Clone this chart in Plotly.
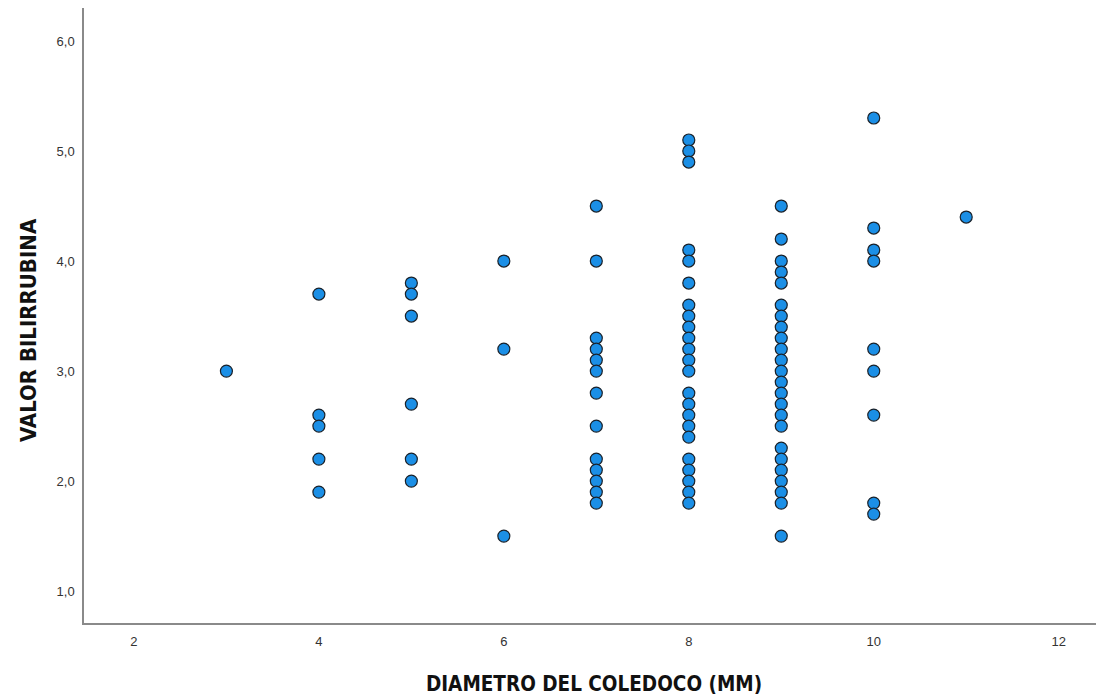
import plotly.graph_objects as go

# Data
diametro_3 = [3.0]
diametro_4 = [3.7, 2.6, 2.5, 2.2, 1.9]
diametro_5 = [3.8, 3.7, 3.5, 2.7, 2.2, 2.0]
diametro_6 = [4.0, 3.2, 1.5]
diametro_7 = [4.5, 4.0, 3.3, 3.2, 3.1, 3.0, 2.8, 2.5, 2.2, 2.1, 2.0, 1.9, 1.8]
diametro_8 = [5.1, 5.0, 4.9, 4.1, 4.0, 3.8, 3.6, 3.5, 3.4, 3.3, 3.2, 3.1, 3.0,
              2.8, 2.7, 2.6, 2.5, 2.4, 2.2, 2.1, 2.0, 1.9, 1.8]
diametro_9 = [4.5, 4.2, 4.0, 3.9, 3.8, 3.6, 3.5, 3.4, 3.3, 3.2, 3.1, 3.0, 2.9,
              2.8, 2.7, 2.6, 2.5, 2.3, 2.2, 2.1, 2.0, 1.9, 1.8, 1.5]
diametro_10 = [5.3, 4.3, 4.1, 4.0, 3.2, 3.0, 2.6, 1.8, 1.7]
diametro_11 = [4.4]

groups = {3: diametro_3, 4: diametro_4, 5: diametro_5, 6: diametro_6, 7: diametro_7,
          8: diametro_8, 9: diametro_9, 10: diametro_10, 11: diametro_11}

x_vals, y_vals = [], []
for d, vals in groups.items():
    x_vals += [d] * len(vals)
    y_vals += vals

x_ticks = [2, 4, 6, 8, 10, 12]
y_ticks = [1.0, 2.0, 3.0, 4.0, 5.0, 6.0]
y_ticktext = ["1,0", "2,0", "3,0", "4,0", "5,0", "6,0"]

fig = go.Figure(go.Scatter(
    x=x_vals, y=y_vals, mode="markers",
    marker=dict(size=12, color="#1b8fe6", line=dict(color="#1a2129", width=1.2)),
    showlegend=False,
))

tick_font = dict(family="Liberation Sans, Arial, sans-serif", size=13, color="#333333")
title_family = "Liberation Sans Narrow, DejaVu Sans Condensed, Liberation Sans, Arial, sans-serif"

# page body has an 8px default margin, so the figure is sized/offset to compensate
fig.update_layout(
    width=1096, height=690,
    margin=dict(l=76, r=0, t=0, b=75),
    plot_bgcolor="white", paper_bgcolor="white",
    xaxis=dict(
        range=[1.46, 12.49], tickvals=x_ticks, ticktext=[str(t) for t in x_ticks],
        showgrid=False, zeroline=False, showline=True, linecolor="#8a8a8a", linewidth=1.5,
        ticks="", tickfont=tick_font, ticklabelstandoff=6, automargin=False,
        title=dict(text="<b>DIAMETRO DEL COLEDOCO (MM)</b>",
                   font=dict(family=title_family, size=20.5, color="#111111"), standoff=28),
    ),
    yaxis=dict(
        range=[0.71, 6.3], tickvals=y_ticks, ticktext=y_ticktext,
        showgrid=False, zeroline=False, showline=True, linecolor="#8a8a8a", linewidth=1.5,
        ticks="", tickfont=tick_font, ticklabelstandoff=5, automargin=False,
    ),
    annotations=[dict(
        text="<b>VALOR BILIRRUBINA</b>", textangle=-90, showarrow=False,
        xref="paper", yref="paper", x=0, y=0.4764, xshift=-56,
        xanchor="center", yanchor="middle",
        font=dict(family=title_family, size=22, color="#111111"),
    )],
)

fig.write_html("out.html")
